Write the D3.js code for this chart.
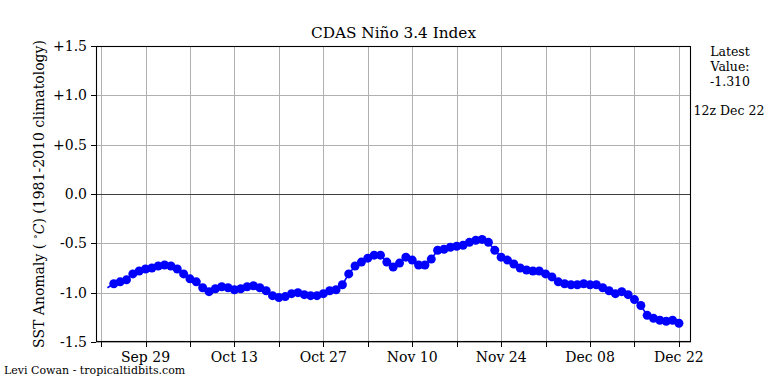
<!DOCTYPE html>
<html>
<head>
<meta charset="utf-8">
<script src="https://cdn.jsdelivr.net/npm/d3@7"></script>
<style>
  body { margin: 0; background: #fff; }
  svg text { font-family: "DejaVu Serif", "Liberation Serif", serif; fill: #000; }
</style>
</head>
<body>
<svg id="chart" width="768" height="384"></svg>
<script>
// daily Nino 3.4 values, first day Sep 23 (2022)
var startDate = new Date(2022, 8, 23);
var anomaly = [-0.95,
  -0.91, -0.89, -0.87, -0.81, -0.78, -0.76, -0.75, -0.73, -0.72, -0.73,
  -0.76, -0.81, -0.86, -0.89, -0.95, -0.99, -0.96, -0.94, -0.95, -0.97,
  -0.96, -0.94, -0.93, -0.95, -0.98, -1.03, -1.05, -1.04, -1.01, -1.00,
  -1.02, -1.03, -1.03, -1.01, -0.98, -0.97, -0.92, -0.81, -0.73, -0.69,
  -0.65, -0.62, -0.62, -0.69, -0.74, -0.70, -0.64, -0.67, -0.72, -0.72,
  -0.66, -0.57, -0.56, -0.54, -0.53, -0.52, -0.49, -0.47, -0.46, -0.49,
  -0.57, -0.64, -0.67, -0.71, -0.75, -0.77, -0.78, -0.78, -0.81, -0.84,
  -0.89, -0.91, -0.92, -0.92, -0.91, -0.92, -0.92, -0.95, -0.98, -1.01,
  -0.99, -1.02, -1.07, -1.13, -1.23, -1.26, -1.28, -1.29, -1.28, -1.31];
var yTicks = [1.5, 1.0, 0.5, 0.0, -0.5, -1.0, -1.5];
var yTickLabels = ["+1.5", "+1.0", "+0.5", "0.0", "-0.5", "-1.0", "-1.5"];
var xLabelDates = ["Sep 29", "Oct 13", "Oct 27", "Nov 10", "Nov 24", "Dec 08", "Dec 22"];
var latestText = ["Latest", "Value:", "-1.310"];
var validText = "12z Dec 22";

var day = 86400000;
var data = anomaly.map(function (v, i) {
    return { date: new Date(startDate.getTime() + i * day), value: v };
});

var svg = d3.select("#chart");
var pLeft = 96, pRight = 691, pTop = 46, pBottom = 342;

var x = d3.scaleTime()
    .domain([new Date(2022, 8, 22).getTime() - 0.8 * day, new Date(2022, 11, 22).getTime() + 1.9 * day])
    .range([pLeft, pRight]);
var y = d3.scaleLinear().domain([-1.5, 1.5]).range([pBottom, pTop]);

var weekTicks = d3.timeDay.range(new Date(2022, 8, 22), new Date(2022, 11, 23), 7);
var fmt = d3.timeFormat("%b %d");

// grid
svg.append("g").selectAll("line").data(weekTicks).join("line")
    .attr("x1", function (d) { return Math.round(x(d)) + 0.5; })
    .attr("x2", function (d) { return Math.round(x(d)) + 0.5; })
    .attr("y1", pTop).attr("y2", pBottom)
    .attr("stroke", "#b0b0b0").attr("stroke-width", 1);
svg.append("g").selectAll("line").data(yTicks).join("line")
    .attr("x1", pLeft).attr("x2", pRight)
    .attr("y1", function (d) { return Math.round(y(d)) + 0.5; })
    .attr("y2", function (d) { return Math.round(y(d)) + 0.5; })
    .attr("stroke", "#b0b0b0").attr("stroke-width", 1);

// zero line
svg.append("line")
    .attr("x1", pLeft).attr("x2", pRight)
    .attr("y1", Math.round(y(0)) + 0.5).attr("y2", Math.round(y(0)) + 0.5)
    .attr("stroke", "#404040").attr("stroke-width", 1.2);

// series
var line = d3.line()
    .x(function (d) { return x(d.date); })
    .y(function (d) { return y(d.value); });
svg.append("path").datum(data)
    .attr("d", line)
    .attr("fill", "none").attr("stroke", "#0000ff").attr("stroke-width", 1.6);
svg.append("g").selectAll("circle").data(data.slice(1)).join("circle")
    .attr("cx", function (d) { return x(d.date); })
    .attr("cy", function (d) { return y(d.value); })
    .attr("r", 4.5)
    .attr("fill", "#0000ff");

// frame
svg.append("rect")
    .attr("x", pLeft + 0.5).attr("y", pTop + 0.5)
    .attr("width", pRight - pLeft - 1).attr("height", pBottom - pTop - 1)
    .attr("fill", "none").attr("stroke", "#000").attr("stroke-width", 1.1);

// y axis ticks
var yg = svg.append("g");
yg.selectAll("line").data(yTicks).join("line")
    .attr("x1", pLeft - 5).attr("x2", pLeft)
    .attr("y1", function (d) { return Math.round(y(d)) + 0.5; })
    .attr("y2", function (d) { return Math.round(y(d)) + 0.5; })
    .attr("stroke", "#000");
yg.selectAll("text").data(yTicks).join("text")
    .attr("x", pLeft - 9)
    .attr("y", function (d) { return y(d); })
    .attr("dy", "0.35em")
    .attr("text-anchor", "end")
    .style("font-size", "14px")
    .text(function (d, i) { return yTickLabels[i]; });

// x axis ticks
var xg = svg.append("g");
xg.selectAll("line").data(weekTicks).join("line")
    .attr("x1", function (d) { return Math.round(x(d)) + 0.5; })
    .attr("x2", function (d) { return Math.round(x(d)) + 0.5; })
    .attr("y1", pBottom).attr("y2", pBottom + 5)
    .attr("stroke", "#000");
xg.selectAll("text").data(weekTicks.filter(function (d) { return xLabelDates.indexOf(fmt(d)) >= 0; })).join("text")
    .attr("x", function (d) { return x(d); })
    .attr("y", pBottom + 20)
    .attr("text-anchor", "middle")
    .style("font-size", "14px")
    .text(function (d) { return fmt(d); });

// title
svg.append("text")
    .attr("x", (pLeft + pRight) / 2).attr("y", 38)
    .attr("text-anchor", "middle")
    .style("font-size", "15.3px")
    .text("CDAS Niño 3.4 Index");

// y label
var yl = svg.append("text")
    .attr("transform", "translate(44," + ((pTop + pBottom) / 2) + ") rotate(-90)")
    .attr("text-anchor", "middle")
    .style("font-size", "14px");
yl.append("tspan").text("SST Anomaly ( ");
yl.append("tspan").attr("dy", -3).style("font-size", "10px").text("°");
yl.append("tspan").attr("dy", 3).style("font-style", "italic").text("C");
yl.append("tspan").text(") (1981-2010 climatology)");

// latest value
svg.append("g").selectAll("text").data(latestText).join("text")
    .attr("x", 730)
    .attr("y", function (d, i) { return 56 + i * 15; })
    .attr("text-anchor", "middle")
    .style("font-size", "12.5px")
    .text(function (d) { return d; });
svg.append("text")
    .attr("x", 729).attr("y", 115)
    .attr("text-anchor", "middle")
    .style("font-size", "12.5px")
    .text(validText);

// credit
svg.append("text")
    .attr("x", 4).attr("y", 374)
    .style("font-size", "11px")
    .text("Levi Cowan - tropicaltidbits.com");
</script>
</body>
</html>
